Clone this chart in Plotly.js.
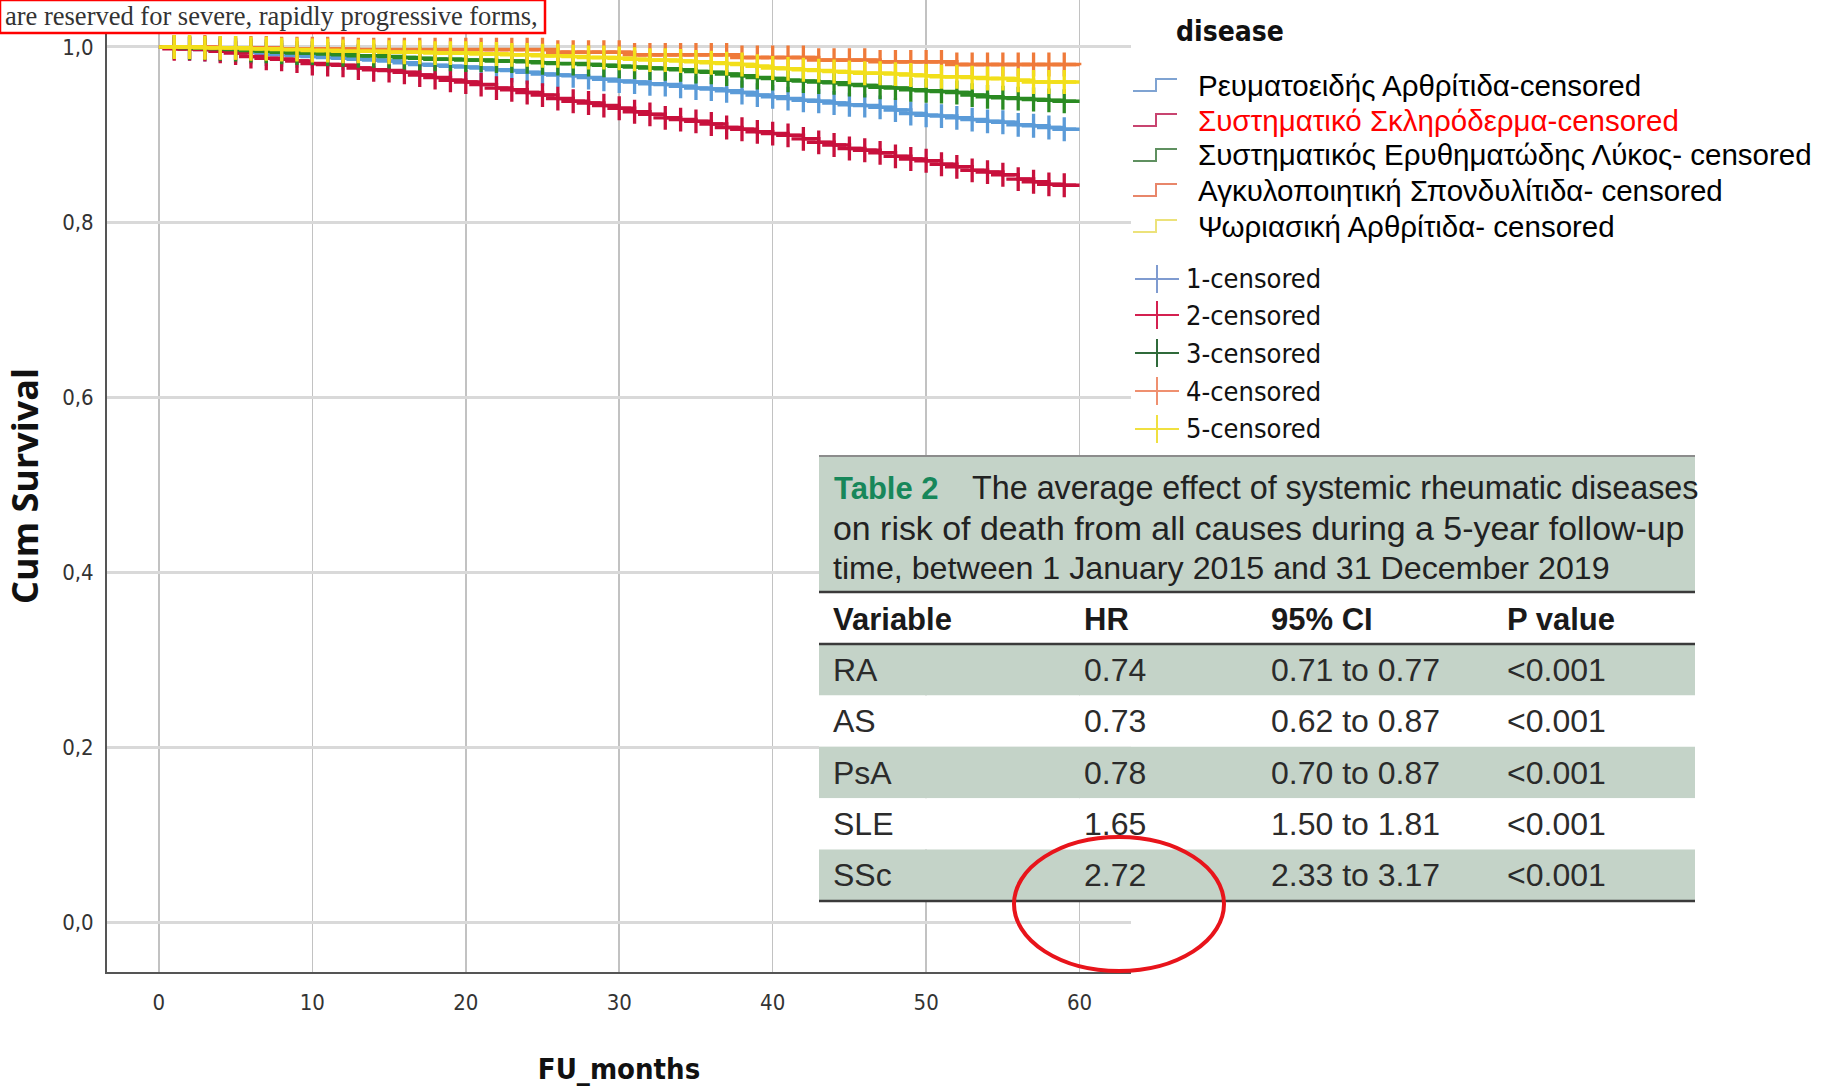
<!DOCTYPE html>
<html>
<head>
<meta charset="utf-8">
<script src="https://cdn.plot.ly/plotly-3.0.1.min.js"></script>
<style>
html,body{margin:0;padding:0;background:#ffffff;}
#chart{width:1832px;height:1087px;}
</style>
</head>
<body>
<div id="chart"></div>
<script>
// ---------------- DATA ----------------
const months = [0,1,2,3,4,5,6,7,8,9,10,11,12,13,14,15,16,17,18,19,20,21,22,23,24,25,26,27,28,29,30,31,32,33,34,35,36,37,38,39,40,41,42,43,44,45,46,47,48,49,50,51,52,53,54,55,56,57,58,59,60];
const censorMonths = [1,2,3,4,5,6,7,8,9,10,11,12,13,14,15,16,17,18,19,20,21,22,23,24,25,26,27,28,29,30,31,32,33,34,35,36,37,38,39,40,41,42,43,44,45,46,47,48,49,50,51,52,53,54,55,56,57,58,59];

const survRA  = [1.000,0.999,0.998,0.997,0.996,0.995,0.994,0.992,0.991,0.990,0.989,0.988,0.987,0.986,0.985,0.984,0.982,0.980,0.979,0.978,0.977,0.976,0.974,0.973,0.971,0.969,0.968,0.967,0.965,0.963,0.961,0.960,0.958,0.957,0.955,0.953,0.952,0.950,0.948,0.945,0.943,0.941,0.939,0.938,0.936,0.934,0.933,0.931,0.928,0.924,0.922,0.921,0.919,0.917,0.915,0.914,0.911,0.910,0.908,0.906,0.906];
const survSSc = [1.000,0.998,0.998,0.997,0.995,0.993,0.989,0.987,0.986,0.984,0.981,0.980,0.979,0.976,0.974,0.973,0.971,0.968,0.965,0.962,0.960,0.957,0.953,0.951,0.948,0.945,0.941,0.938,0.936,0.933,0.930,0.926,0.923,0.919,0.917,0.915,0.912,0.908,0.906,0.903,0.901,0.899,0.895,0.891,0.888,0.884,0.882,0.879,0.875,0.872,0.870,0.866,0.863,0.859,0.857,0.854,0.849,0.846,0.843,0.842,0.842];
const survSLE = [1.000,1.000,0.999,0.999,0.998,0.997,0.996,0.995,0.994,0.993,0.993,0.992,0.991,0.990,0.990,0.989,0.988,0.987,0.986,0.986,0.985,0.985,0.984,0.984,0.983,0.982,0.981,0.981,0.980,0.979,0.978,0.977,0.976,0.975,0.974,0.972,0.971,0.969,0.967,0.965,0.964,0.962,0.961,0.960,0.959,0.957,0.956,0.954,0.953,0.951,0.950,0.949,0.948,0.945,0.943,0.942,0.941,0.940,0.939,0.938,0.938];
const survAS  = [1.000,1.000,1.000,1.000,0.999,0.999,0.999,0.999,0.998,0.998,0.998,0.998,0.998,0.997,0.997,0.997,0.997,0.997,0.997,0.997,0.997,0.997,0.997,0.997,0.997,0.997,0.994,0.994,0.994,0.994,0.994,0.991,0.991,0.991,0.991,0.991,0.991,0.991,0.988,0.988,0.988,0.988,0.988,0.985,0.985,0.985,0.985,0.983,0.983,0.983,0.983,0.983,0.980,0.980,0.980,0.980,0.980,0.980,0.980,0.980,0.979];
const survPsA = [1.000,1.000,1.000,0.999,0.999,0.999,0.998,0.998,0.997,0.997,0.996,0.996,0.995,0.995,0.995,0.994,0.994,0.994,0.993,0.993,0.993,0.992,0.992,0.991,0.991,0.990,0.990,0.989,0.988,0.988,0.987,0.986,0.985,0.985,0.984,0.983,0.982,0.981,0.980,0.978,0.976,0.975,0.974,0.973,0.972,0.971,0.970,0.970,0.969,0.968,0.967,0.966,0.966,0.965,0.964,0.964,0.962,0.960,0.960,0.960,0.960];

const seriesNames = [
  "Ρευματοειδής Αρθρίτιδα-censored",
  "Συστηματικό Σκληρόδερμα-censored",
  "Συστηματικός Ερυθηματώδης Λύκος- censored",
  "Αγκυλοποιητική Σπονδυλίτιδα- censored",
  "Ψωριασική Αρθρίτιδα- censored"
];
const censorNames = ["1-censored","2-censored","3-censored","4-censored","5-censored"];

const xTickVals = [0,10,20,30,40,50,60];
const xTickLabels = ["0","10","20","30","40","50","60"];
const yTickVals = [0,0.2,0.4,0.6,0.8,1.0];
const yTickLabels = ["0,0","0,2","0,4","0,6","0,8","1,0"];

const tableCaptionLead = "Table 2";
const tableCaption = [
  "The average effect of systemic rheumatic diseases",
  "on risk of death from all causes during a 5-year follow-up",
  "time, between 1 January 2015 and 31 December 2019"
];
const tableHeaders = ["Variable","HR","95% CI","P value"];
const tableVariables = ["RA","AS","PsA","SLE","SSc"];
const tableHR = ["0.74","0.73","0.78","1.65","2.72"];
const tableCI = ["0.71 to 0.77","0.62 to 0.87","0.70 to 0.87","1.50 to 1.81","2.33 to 3.17"];
const tableP = ["<0.001","<0.001","<0.001","<0.001","<0.001"];

const noteText = "are reserved for severe, rapidly progressive forms,";

// ---------------- STYLE ----------------
const survSeries = [survRA, survSSc, survSLE, survAS, survPsA];
const lineColors  = ["#5b9bd8","#c8103c","#2a8a22","#ef7a3a","#f2df1a"];
const stepIconColors = ["#7fa3d2","#c84470","#5f9060","#e8866a","#ece27a"];
const crossIconColors = ["#7f9bd0","#d42050","#2f6a3a","#ef9070","#f0e040"];
const legendTextColors = ["#000000","#ff0000","#000000","#000000","#000000"];

const NARROW = "Liberation Sans Narrow, DejaVu Sans Condensed, Arial Narrow, sans-serif";
const COND = "DejaVu Sans Condensed, DejaVu Sans, sans-serif";
const ARIAL = "Liberation Sans, Arial, sans-serif";

// pixel -> paper helpers (plot area: x 107..1131, y 0..972)
const PL = 107, PR = 1131, PT = 0, PB = 972;
const fx = p => (p - PL) / (PR - PL);
const fy = p => 1 - (p - PT) / (PB - PT);
const esc = s => s.replace(/&/g,"&amp;").replace(/</g,"&lt;").replace(/>/g,"&gt;");

// ---------------- TRACES ----------------
const traces = [];
survSeries.forEach((s, i) => {
  traces.push({
    type: "scatter", mode: "lines", x: months, y: s,
    line: {shape: "hv", color: lineColors[i], width: 3.5},
    name: seriesNames[i], showlegend: false, hoverinfo: "skip"
  });
  traces.push({
    type: "scatter", mode: "markers",
    x: censorMonths, y: censorMonths.map(m => s[months.indexOf(m)]),
    marker: {symbol: "cross-thin", size: 17, color: lineColors[i], line: {color: lineColors[i], width: 3.3}},
    name: censorNames[i], showlegend: false, hoverinfo: "skip"
  });
});

// ---------------- SHAPES & ANNOTATIONS ----------------
const shapes = [];
const annotations = [];

// top-left note box
shapes.push({type:"rect", xref:"paper", yref:"paper", x0:fx(0), x1:fx(545), y0:fy(0), y1:fy(33),
  fillcolor:"#ffffff", line:{color:"#ff0000", width:2.5}, layer:"above"});
annotations.push({xref:"paper", yref:"paper", x:fx(3), y:fy(16), xanchor:"left", yanchor:"middle",
  text: noteText, showarrow:false, font:{family:"Liberation Serif, Times New Roman, serif", size:26.5, color:"#333333"}});

// legend title
annotations.push({xref:"paper", yref:"paper", x:fx(1174), y:fy(32), xanchor:"left", yanchor:"middle",
  text:"<b>disease</b>", showarrow:false, font:{family:NARROW, size:28, color:"#111111"}});

// legend step entries
const stepY = [85, 120, 155, 190, 226];
seriesNames.forEach((n, i) => {
  const yc = stepY[i];
  const p = `M ${fx(1133)} ${fy(yc+6)} L ${fx(1156)} ${fy(yc+6)} L ${fx(1156)} ${fy(yc-6)} L ${fx(1177)} ${fy(yc-6)}`;
  shapes.push({type:"path", xref:"paper", yref:"paper", path:p, line:{color:stepIconColors[i], width:2}});
  annotations.push({xref:"paper", yref:"paper", x:fx(1196), y:fy(yc), xanchor:"left", yanchor:"middle",
    text:n, showarrow:false, font:{family:ARIAL, size:29.5, color:legendTextColors[i]}});
});

// legend censored entries
const crossY = [279, 315, 353, 391, 429];
censorNames.forEach((n, i) => {
  const yc = crossY[i];
  shapes.push({type:"line", xref:"paper", yref:"paper", x0:fx(1135), x1:fx(1179), y0:fy(yc), y1:fy(yc),
    line:{color:crossIconColors[i], width:2}});
  shapes.push({type:"line", xref:"paper", yref:"paper", x0:fx(1157), x1:fx(1157), y0:fy(yc-14), y1:fy(yc+14),
    line:{color:crossIconColors[i], width:2}});
  annotations.push({xref:"paper", yref:"paper", x:fx(1184), y:fy(yc), xanchor:"left", yanchor:"middle",
    text:n, showarrow:false, font:{family:NARROW, size:27, color:"#111111"}});
});

// table
const TX0 = 819, TX1 = 1695, TTOP = 456, TCAP = 592, THEAD = 644, ROWH = 51.4;
const colX = [833, 1084, 1271, 1507];
const sage = "#c4d3c8";
shapes.push({type:"rect", xref:"paper", yref:"paper", x0:fx(TX0), x1:fx(TX1), y0:fy(TTOP), y1:fy(TCAP),
  fillcolor:sage, line:{width:0}, layer:"above"});
shapes.push({type:"rect", xref:"paper", yref:"paper", x0:fx(TX0), x1:fx(TX1), y0:fy(TCAP), y1:fy(THEAD),
  fillcolor:"#ffffff", line:{width:0}, layer:"above"});
tableVariables.forEach((v, i) => {
  shapes.push({type:"rect", xref:"paper", yref:"paper", x0:fx(TX0), x1:fx(TX1),
    y0:fy(THEAD + i*ROWH), y1:fy(THEAD + (i+1)*ROWH),
    fillcolor: i % 2 === 0 ? sage : "#ffffff", line:{width:0}, layer:"above"});
});
shapes.push({type:"line", xref:"paper", yref:"paper", x0:fx(TX0), x1:fx(TX1), y0:fy(TTOP), y1:fy(TTOP),
  line:{color:"#8c8c8c", width:2}, layer:"above"});
[TCAP, THEAD, THEAD + 5*ROWH].forEach(yy => {
  shapes.push({type:"line", xref:"paper", yref:"paper", x0:fx(TX0), x1:fx(TX1), y0:fy(yy), y1:fy(yy),
    line:{color:"#3a3a3a", width:2.5}, layer:"above"});
});

const capY = [488, 528, 568];
const capSizes = [32.3, 33.9, 32.2];
annotations.push({xref:"paper", yref:"paper", x:fx(832), y:fy(capY[0]), xanchor:"left", yanchor:"middle",
  text:"<b>"+tableCaptionLead+"</b>", showarrow:false, font:{family:ARIAL, size:31, color:"#17875a"}});
tableCaption.forEach((t, i) => {
  annotations.push({xref:"paper", yref:"paper", x:fx(i===0 ? 970 : 831), y:fy(capY[i]), xanchor:"left", yanchor:"middle",
    text:t, showarrow:false, font:{family:ARIAL, size:capSizes[i], color:"#222222"}});
});
tableHeaders.forEach((h, j) => {
  annotations.push({xref:"paper", yref:"paper", x:fx(colX[j]-2), y:fy(619), xanchor:"left", yanchor:"middle",
    text:"<b>"+h+"</b>", showarrow:false, font:{family:ARIAL, size:31, color:"#1a1a1a"}});
});
tableVariables.forEach((v, i) => {
  const yc = THEAD + (i+0.5)*ROWH;
  const row = [v, tableHR[i], tableCI[i], tableP[i]];
  row.forEach((c, j) => {
    annotations.push({xref:"paper", yref:"paper", x:fx(colX[j]-2), y:fy(yc), xanchor:"left", yanchor:"middle",
      text:esc(c), showarrow:false, font:{family:ARIAL, size:32, color:"#2b2b2b"}});
  });
});

// red ellipse
shapes.push({type:"circle", xref:"paper", yref:"paper", x0:fx(1014), x1:fx(1224), y0:fy(837), y1:fy(971),
  fillcolor:"rgba(0,0,0,0)", line:{color:"#e8141b", width:4}, layer:"above"});

// ---------------- LAYOUT ----------------
const layout = {
  width: 1832, height: 1087,
  margin: {l: PL, r: 1832 - PR, t: PT, b: 1087 - PB, pad: 0},
  paper_bgcolor: "#ffffff", plot_bgcolor: "#ffffff",
  showlegend: false,
  xaxis: {
    range: [-3.38, 63.35], tickvals: xTickVals, ticktext: xTickLabels,
    showgrid: true, gridcolor: "#c2c2c2", gridwidth: 1.5, zeroline: false,
    showline: true, linecolor: "#555555", linewidth: 2, ticks: "",
    ticklabelstandoff: 10,
    tickfont: {family: COND, size: 22, color: "#333333"},
    title: {text: "<b>FU_months</b>", font: {family: NARROW, size: 29, color: "#111111"}, standoff: 44},
    fixedrange: true
  },
  yaxis: {
    range: [-0.0571, 1.0537], tickvals: yTickVals, ticktext: yTickLabels,
    showgrid: true, gridcolor: "#d9d9d9", gridwidth: 3, zeroline: false,
    showline: true, linecolor: "#555555", linewidth: 2, ticks: "",
    ticklabelstandoff: 7,
    tickfont: {family: COND, size: 22, color: "#333333"},
    title: {text: "<b>Cum Survival</b>", font: {family: "Open Sans, Liberation Sans, sans-serif", size: 36, color: "#111111"}, standoff: 21},
    fixedrange: true
  },
  shapes: shapes,
  annotations: annotations
};

Plotly.newPlot("chart", traces, layout, {displayModeBar: false, staticPlot: true});
</script>
</body>
</html>
